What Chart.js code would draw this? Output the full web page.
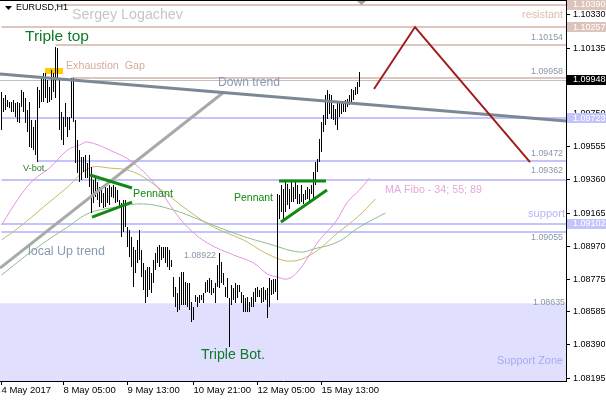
<!DOCTYPE html>
<html><head><meta charset="utf-8">
<script src="https://cdn.jsdelivr.net/npm/chart.js@4/dist/chart.umd.min.js"></script>
<style>html,body{margin:0;padding:0;background:#fff}canvas{display:block}</style>
</head><body>
<canvas id="c" width="606" height="400" style="width:606px;height:400px"></canvas>
<script>
// ---- data (EURUSD H1, one entry per hourly bar) ----
const barHigh = [
1.09877,1.09842,1.09859,1.09830,1.09818,1.09818,1.09830,1.09812,1.09818,1.09812,
1.09889,1.09877,1.09842,1.09771,1.09818,1.09712,1.09671,1.09712,1.09906,1.09889,
1.09959,1.09989,1.09989,1.09948,1.09906,1.10006,1.09989,1.10142,1.10136,1.09959,
1.09759,1.09730,1.09812,1.09730,1.09730,1.09959,1.09959,1.09712,1.09595,1.09536,
1.09495,1.09495,1.09507,1.09460,1.09507,1.09436,1.09360,1.09371,1.09348,1.09318,
1.09301,1.09283,1.09318,1.09313,1.09330,1.09318,1.09330,1.09318,1.09301,1.09242,
1.09224,1.09242,1.09242,1.09083,1.09066,1.09024,1.08966,1.08948,1.09007,1.09066,
1.08948,1.08872,1.08830,1.08848,1.08848,1.08813,1.08889,1.08930,1.08966,1.08977,
1.08966,1.08966,1.08966,1.08966,1.08948,1.08889,1.08789,1.08730,1.08695,1.08789,
1.08819,1.08819,1.08760,1.08754,1.08754,1.08642,1.08613,1.08683,1.08672,1.08683,
1.08683,1.08695,1.08760,1.08772,1.08783,1.08772,1.08725,1.08754,1.08860,1.08930,
1.08877,1.08813,1.08730,1.08783,1.08666,1.08742,1.08725,1.08754,1.08742,1.08742,
1.08701,1.08683,1.08666,1.08672,1.08642,1.08672,1.08701,1.08725,1.08730,1.08713,
1.08725,1.08730,1.08713,1.08725,1.08783,1.08772,1.08778,1.08778,1.09277,1.09271,
1.09330,1.09307,1.09348,1.09336,1.09307,1.09348,1.09318,1.09360,1.09330,1.09277,
1.09330,1.09277,1.09301,1.09318,1.09307,1.09330,1.09407,1.09465,1.09483,1.09601,
1.09701,1.09742,1.09859,1.09889,1.09865,1.09859,1.09801,1.09777,1.09818,1.09818,
1.09818,1.09818,1.09830,1.09836,1.09859,1.09895,1.09889,1.09906,1.09936,1.09995
];
const barLow = [
1.09654,1.09759,1.09771,1.09789,1.09783,1.09759,1.09759,1.09730,1.09701,1.09695,
1.09789,1.09759,1.09695,1.09642,1.09554,1.09548,1.09536,1.09507,1.09465,1.09783,
1.09818,1.09818,1.09842,1.09812,1.09818,1.09830,1.09877,1.09842,1.09948,1.09654,
1.09595,1.09565,1.09671,1.09612,1.09654,1.09724,1.09701,1.09460,1.09401,1.09348,
1.09360,1.09407,1.09371,1.09371,1.09318,1.09166,1.09224,1.09260,1.09242,1.09201,
1.09224,1.09195,1.09201,1.09224,1.09213,1.09260,1.09254,1.09224,1.09230,1.09201,
1.09024,1.09054,1.09083,1.08966,1.08907,1.08848,1.08730,1.08813,1.08872,1.08889,
1.08789,1.08713,1.08636,1.08672,1.08713,1.08695,1.08754,1.08830,1.08872,1.08848,
1.08889,1.08901,1.08872,1.08848,1.08830,1.08848,1.08672,1.08613,1.08583,1.08595,
1.08625,1.08625,1.08625,1.08613,1.08595,1.08525,1.08536,1.08642,1.08613,1.08636,
1.08654,1.08636,1.08695,1.08701,1.08695,1.08683,1.08695,1.08636,1.08730,1.08725,
1.08754,1.08742,1.08672,1.08666,1.08378,1.08625,1.08654,1.08636,1.08666,1.08701,
1.08636,1.08583,1.08583,1.08583,1.08583,1.08613,1.08613,1.08642,1.08672,1.08672,
1.08636,1.08642,1.08654,1.08548,1.08613,1.08683,1.08689,1.08701,1.08654,1.09130,
1.09171,1.09130,1.09171,1.09213,1.09189,1.09230,1.09230,1.09248,1.09219,1.09219,
1.09230,1.09219,1.09242,1.09248,1.09230,1.09277,1.09248,1.09330,1.09407,1.09465,
1.09524,1.09642,1.09683,1.09718,1.09748,1.09718,1.09712,1.09683,1.09654,1.09730,
1.09748,1.09759,1.09759,1.09789,1.09801,1.09807,1.09830,1.09859,1.09865,1.09906
];
// moving averages (bar index, price)
const ma34 = [[0,1.09095],[9,1.0926],[16,1.0936],[24,1.0943],[33,1.09536],[39,1.09565],[43,1.09583],[54,1.09536],[66,1.0946],[78,1.09318],[86,1.09183],[93,1.09083],[103,1.08989],[116,1.08919],[126,1.08872],[133,1.08807],[138,1.08789],[143,1.08778],[148,1.08819],[153,1.08901],[159,1.09007],[167,1.09113],[173,1.0923],[179,1.09301],[184,1.09371]];
const ma55 = [[0,1.09007],[9,1.09083],[21,1.09201],[33,1.09318],[44,1.0943],[54,1.0943],[66,1.09407],[78,1.09318],[93,1.09183],[106,1.09083],[121,1.09007],[134,1.08919],[145,1.08883],[156,1.0893],[168,1.09048],[178,1.09142],[187,1.09248]];
const ma89 = [[0,1.08801],[16,1.08948],[33,1.09083],[44,1.09166],[58,1.09201],[71,1.09219],[86,1.09183],[103,1.09107],[119,1.09036],[134,1.08983],[149,1.08936],[156,1.08954],[168,1.08995],[179,1.09083],[192,1.09166]];
// axes
const yTickValues = [1.10330,1.10135,1.09945,1.09750,1.09555,1.09360,1.09165,1.08970,1.08775,1.08585,1.08390,1.08195];
const xTickIndex = [0,31,63,96,128,160];
const xTickLabels = ['4 May 2017','8 May 05:00','9 May 13:00','10 May 21:00','12 May 05:00','15 May 13:00'];
// levels
const resistLevels = [1.10390,1.10257,1.10154,1.09958];
const resistStart = [27,0,27,35];
const supportLevels = [1.09723,1.09472,1.09362,1.09102,1.09055];
const supportStart = [0,18,0,0,0];
const bidPrice = 1.09948;
const supportZoneTop = 1.08635;
const gapZone = [[21.75,1.10018],[30.75,1.09983]];
// drawn lines (bar index, price)
const downTrend = [[-0.75,1.09983],[282.25,1.09707]];
const upTrend = [[-0.75,1.08842],[111.25,1.09877]];
const forecast = [[186.25,1.09895],[206.75,1.10259],[264.25,1.09465]];
const pennant1Top = [[44.25,1.09389],[65.25,1.09313]];
const pennant1Bot = [[45.25,1.09142],[65.25,1.09230]];
const pennant2Top = [[138.75,1.09354],[162.25,1.09354]];
const pennant2Bot = [[139.75,1.09113],[162.75,1.09301]];

const F = '"Liberation Sans", Arial, sans-serif';

function fitText(ctx, s, x, y, w, color, align){
  let size = 12;
  ctx.font = size + 'px ' + F;
  const m = ctx.measureText(s).width;
  size = size * w / m;
  ctx.font = size.toFixed(2) + 'px ' + F;
  ctx.fillStyle = color;
  ctx.textAlign = align || 'left';
  ctx.textBaseline = 'middle';
  ctx.fillText(s, x, y);
}

const overlay = {
  id: 'overlay',
  beforeDatasetsDraw(chart){
    const {ctx, chartArea:a, scales:{x, y}} = chart;
    ctx.save();
    // support zone
    const zt = y.getPixelForValue(supportZoneTop);
    ctx.fillStyle = '#e0e0fe';
    ctx.fillRect(a.left, zt, a.right - a.left, a.bottom - zt);
    // bid line
    let by = Math.round(y.getPixelForValue(bidPrice)) + 0.5;
    ctx.strokeStyle = '#c0c0c0'; ctx.lineWidth = 1;
    ctx.beginPath(); ctx.moveTo(a.left, by); ctx.lineTo(a.right, by); ctx.stroke();
    // resistance lines
    ctx.strokeStyle = '#dcc6be'; ctx.lineWidth = 2;
    resistLevels.forEach((p, k) => {
      const py = Math.round(y.getPixelForValue(p));
      ctx.beginPath(); ctx.moveTo(Math.max(a.left, x.getPixelForValue(resistStart[k])), py); ctx.lineTo(a.right, py); ctx.stroke();
    });
    ctx.strokeStyle = '#c4c4fc';
    supportLevels.forEach((p, k) => {
      const py = Math.round(y.getPixelForValue(p));
      ctx.beginPath(); ctx.moveTo(Math.max(a.left, x.getPixelForValue(supportStart[k])), py); ctx.lineTo(a.right, py); ctx.stroke();
    });
    // gap box
    const gx0 = x.getPixelForValue(gapZone[0][0]), gx1 = x.getPixelForValue(gapZone[1][0]);
    const gy0 = y.getPixelForValue(gapZone[0][1]), gy1 = y.getPixelForValue(gapZone[1][1]);
    ctx.fillStyle = '#ffcc00';
    ctx.fillRect(gx0, gy0, gx1 - gx0, gy1 - gy0);
    ctx.restore();
  },
  afterDatasetsDraw(chart){
    const {ctx, chartArea:a, scales:{x, y}} = chart;
    ctx.save();
    ctx.beginPath(); ctx.rect(a.left, a.top, a.right - a.left, a.bottom - a.top); ctx.clip();
    const poly = (pts, color, w) => {
      ctx.strokeStyle = color; ctx.lineWidth = w; ctx.lineJoin = 'miter';
      ctx.beginPath();
      pts.forEach(([i, p], k) => { const px = x.getPixelForValue(i), py = y.getPixelForValue(p); k ? ctx.lineTo(px, py) : ctx.moveTo(px, py); });
      ctx.stroke();
    };
    poly(upTrend, '#a9a9a9', 3);
    poly(downTrend, '#7b8896', 3);
    poly(forecast, '#a21c1c', 2);
    poly(pennant1Top, '#108a10', 3);
    poly(pennant1Bot, '#108a10', 3);
    poly(pennant2Top, '#108a10', 3);
    poly(pennant2Bot, '#108a10', 3);
    ctx.restore();
  },
  afterDraw(chart){
    const {ctx, chartArea:a, scales:{x, y}} = chart;
    ctx.save();
    // top frame
    ctx.strokeStyle = '#000'; ctx.lineWidth = 1;
    ctx.beginPath(); ctx.moveTo(0, 0.5); ctx.lineTo(a.right, 0.5); ctx.stroke();
    // shift marker
    ctx.fillStyle = '#a0a0a0';
    ctx.beginPath(); ctx.moveTo(357, 1); ctx.lineTo(366, 1); ctx.lineTo(361.5, 5); ctx.closePath(); ctx.fill();
    // title triangle
    ctx.fillStyle = '#000';
    ctx.beginPath(); ctx.moveTo(5, 6); ctx.lineTo(12, 6); ctx.lineTo(8.5, 10); ctx.closePath(); ctx.fill();
    const G = '#0e7a2a';
    const texts = [
      ['EURUSD,H1', 16, 8, 52, '#000'],
      ['Sergey Logachev', 72, 15, 111, '#c6c6c6'],
      ['Triple top', 25, 37, 64, G],
      ['Exhaustion  Gap', 66, 66.5, 79, '#d6ac9c'],
      ['Down trend', 218, 83, 62, '#8a9ab2'],
      ['V-bot.', 23, 168.5, 24, '#2e7a2a'],
      ['Pennant', 133, 194, 40, '#138a13'],
      ['Pennant', 234, 198.5, 39, '#138a13'],
      ['local Up trend', 28, 252, 77, '#8a9ab2'],
      ['1.08922', 184, 256, 32, '#8a96a8'],
      ['Triple Bot.', 201, 355, 64, G],
      ['MA Fibo - 34; 55; 89', 385, 190, 97, '#e4a8de'],
      ['resistant', 563, 15, 41, '#dcbcac', 'right'],
      ['1.10154', 563, 38, 32, '#8a96a8', 'right'],
      ['1.09958', 563, 72, 32, '#8a96a8', 'right'],
      ['1.09472', 563, 154, 32, '#8a96a8', 'right'],
      ['1.09362', 563, 171, 32, '#8a96a8', 'right'],
      ['support', 565, 214, 37, '#b6b6f6', 'right'],
      ['1.09055', 563, 238, 32, '#8a96a8', 'right'],
      ['1.08635', 565, 303, 32, '#8a96a8', 'right'],
      ['Support Zone', 563, 361, 66, '#a8a8f2', 'right']
    ];
    texts.forEach(t => fitText(ctx, t[0], t[1], t[2], t[3], t[4], t[5]));
    // axis boxes
    const box = (p, bg) => {
      const py = y.getPixelForValue(p);
      ctx.fillStyle = bg;
      ctx.fillRect(a.right + 1, Math.round(py) - 5, 606 - a.right, 10);
      ctx.font = '9px ' + F; ctx.fillStyle = '#fff'; ctx.textAlign = 'left'; ctx.textBaseline = 'middle';
      ctx.fillText(p.toFixed(5), a.right + 7, py);
    };
    box(resistLevels[0], '#dcc4bc');
    box(resistLevels[1], '#dcc4bc');
    box(supportLevels[0], '#c4c4fc');
    box(supportLevels[3], '#c4c4fc');
    box(bidPrice, '#000');
    ctx.restore();
  }
};

new Chart(document.getElementById('c'), {
  type: 'bar',
  data: {
    datasets: [
      { type: 'bar', data: barHigh.map((h, i) => ({x: i, y: [barLow[i], h]})), backgroundColor: '#000', borderWidth: 0, barThickness: 1, inflateAmount: 0, order: 0 },
      { type: 'line', data: ma34.map(([i, p]) => ({x: i, y: p})), borderColor: '#e690e6', borderWidth: 1, pointRadius: 0, tension: 0.4, fill: false, order: 1 },
      { type: 'line', data: ma55.map(([i, p]) => ({x: i, y: p})), borderColor: '#c4b866', borderWidth: 1, pointRadius: 0, tension: 0.4, fill: false, order: 2 },
      { type: 'line', data: ma89.map(([i, p]) => ({x: i, y: p})), borderColor: '#8cbc8c', borderWidth: 1, pointRadius: 0, tension: 0.4, fill: false, order: 3 }
    ]
  },
  options: {
    responsive: false, maintainAspectRatio: false, animation: false, devicePixelRatio: 1,
    layout: { padding: 0 },
    plugins: { legend: { display: false }, tooltip: { enabled: false } },
    scales: {
      x: {
        type: 'linear', min: -0.75, max: 282.25, offset: false,
        grid: { display: true, drawOnChartArea: false, drawTicks: true, tickLength: 4, color: '#000', offset: false },
        border: { display: true, color: '#000' },
        afterBuildTicks: s => { s.ticks = xTickIndex.map(v => ({value: v})); },
        afterFit: s => { s.height = 19; s.paddingLeft = 0; s.paddingRight = 0; },
        ticks: { autoSkip: false, maxRotation: 0, minRotation: 0, align: 'start', padding: 0, color: '#000',
          font: { family: F, size: 9.5 }, callback: (v, idx) => xTickLabels[idx] }
      },
      y: {
        type: 'linear', position: 'right', min: 1.08178, max: 1.10418, beginAtZero: false,
        grid: { display: true, drawOnChartArea: false, drawTicks: true, tickLength: 4, color: '#000' },
        border: { display: true, color: '#000' },
        afterBuildTicks: s => { s.ticks = yTickValues.map(v => ({value: v})); },
        afterFit: s => { s.width = 40; s.paddingTop = 0; s.paddingBottom = 0; },
        ticks: { padding: 3, color: '#000', font: { family: F, size: 9 }, callback: v => Number(v).toFixed(5) }
      }
    }
  },
  plugins: [overlay]
});
</script>
</body></html>
